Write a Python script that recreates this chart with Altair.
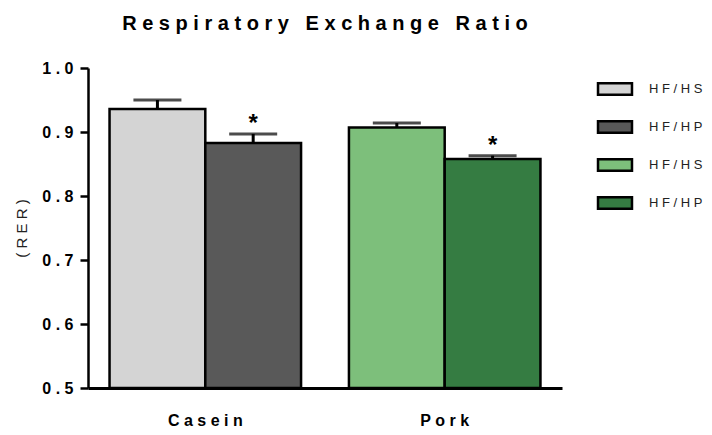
import altair as alt
import pandas as pd

groups = ["Casein", "Casein", "Pork", "Pork"]
diets = ["HF/HS", "HF/HP", "HF/HS", "HF/HP"]
means = [0.936, 0.883, 0.907, 0.858]
errs = [0.014, 0.014, 0.007, 0.005]
stars = ["", "*", "", "*"]
keys = ["Casein HF/HS", "Casein HF/HP", "Pork HF/HS", "Pork HF/HP"]
colors = ["#d4d4d4", "#595959", "#7dbf7b", "#357c42"]
y_ticks = [0.5, 0.6, 0.7, 0.8, 0.9, 1.0]
y_min = 0.5

df = pd.DataFrame({
    "group": groups, "diet": diets, "mean": means,
    "upper": [m + e for m, e in zip(means, errs)],
    "star": stars, "key": keys,
})

FONT = "Liberation Sans"
NB = "\u00a0"
spaced = lambda s: f"join(split({s}, ''), '{NB}')"

x = alt.X("group:N", title=None, sort=["Casein", "Pork"],
          scale=alt.Scale(paddingInner=0.2, paddingOuter=0.09),
          axis=alt.Axis(labelAngle=0, ticks=False, domainWidth=3, domainColor="black",
                        labelFont=FONT, labelFontSize=16, labelFontWeight="bold",
                        labelColor="black", labelPadding=24,
                        labelExpr=spaced("datum.label")))
xo = alt.XOffset("diet:N", sort=["HF/HS", "HF/HP"],
                 scale=alt.Scale(paddingInner=0, paddingOuter=0))
yscale = alt.Scale(domain=[y_min, 1.0], nice=False, zero=False)
yaxis = alt.Axis(values=y_ticks, title=NB.join("(RER)"), titleFont=FONT, titleFontSize=15,
                 titleFontWeight="normal", titleColor="#222", titlePadding=12,
                 domainWidth=2.5, domainColor="black", tickWidth=2.5, tickColor="black",
                 tickSize=8, labelFont=FONT, labelFontSize=16, labelFontWeight="bold",
                 labelColor="black", labelPadding=7,
                 labelExpr=spaced("format(datum.value, '.1f')"))

base = alt.Chart(df)

rule = base.mark_rule(color="black", strokeWidth=3).encode(
    x=x, xOffset=xo, y=alt.Y("mean:Q", scale=yscale, axis=yaxis), y2="upper:Q")
cap = base.mark_tick(color="black", thickness=3, size=48).encode(
    x=x, xOffset=xo, y=alt.Y("upper:Q", scale=yscale))
bars = base.mark_bar(stroke="black", strokeWidth=2.5).encode(
    x=x, xOffset=xo, y=alt.Y("mean:Q", scale=yscale, axis=yaxis),
    y2=alt.datum(y_min),
    fill=alt.Fill("key:N", scale=alt.Scale(domain=keys, range=colors),
                  legend=alt.Legend(
                      title=None, orient="none", legendX=514, legendY=8, padding=0,
                      symbolType="M-1.5,-0.5H1.5V0.5H-1.5Z", symbolSize=513,
                      symbolStrokeColor="black", symbolStrokeWidth=2.5, symbolOpacity=1,
                      labelFont=FONT, labelFontSize=13, labelColor="#222",
                      labelOffset=21, rowPadding=14, labelLimit=200,
                      labelExpr=spaced("split(datum.label, ' ')[1]"))))
text = base.mark_text(font=FONT, fontSize=24, fontWeight="bold", color="black",
                      baseline="alphabetic", dy=-3).encode(
    x=x, xOffset=xo, y=alt.Y("upper:Q", scale=yscale), text="star:N")

chart = alt.layer(rule, cap, bars, text).properties(
    width=474, height=320,
    autosize=alt.AutoSizeParams(type="none"),
    padding={"left": 80, "top": 60, "right": 142, "bottom": 39},
    title=alt.TitleParams(NB.join("Respiratory Exchange Ratio"), font=FONT, fontSize=20,
                          fontWeight="bold", color="black", anchor="middle", offset=26),
).configure_view(stroke=None).configure_axis(grid=False)

chart.save("out.html", embed_options={"renderer": "svg", "actions": False})
